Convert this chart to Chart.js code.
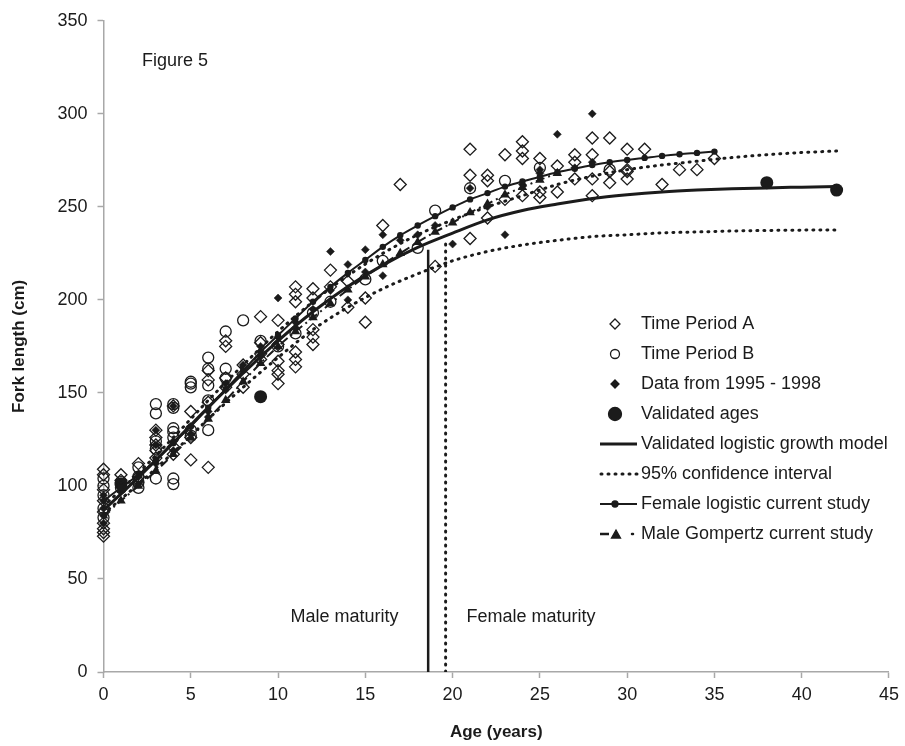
<!DOCTYPE html>
<html>
<head>
<meta charset="utf-8">
<title>Figure 5 - Fork length at age</title>
<script src="https://cdn.jsdelivr.net/npm/chart.js@4.4.0/dist/chart.umd.min.js"></script>
<style>
  html, body { margin: 0; padding: 0; background: #fff; }
  #wrap { width: 905px; height: 746px; }
</style>
</head>
<body>
<div id="wrap"><canvas id="growthChart" width="905" height="746"></canvas></div>
<script>
// ---- data (age in years, fork length in cm) ----
const ageA = [0,0,0,0,0,0,0,0,0, 1,1, 2,2, 3,3,3,3,3, 4,4,4, 5,5,5, 6,6,6,6, 7,7,7,7, 8,8,8,
  9,9,9,9, 10,10,10,10,10,10, 11,11,11,11,11,11, 12,12,12,12,12, 13,13, 14,14, 15,15, 16, 17, 19,
  21,21,21, 22,22,22, 23,23, 24,24,24,24, 25,25,25, 26,26, 27,27,27, 28,28,28,28, 29,29,29,
  30,30,30,30, 31, 32, 33, 34, 35];
const lengthA = [109,106,98,92,86,80,77,75,73, 106,103, 112,105, 130,126,122,119,115, 143,121,117,
  140,126,114, 162,157,145,110, 178,175,158,153, 165,153,160, 191,177,171,168,
  189,176,167,162,155,160, 207,203,199,172,168,164, 206,201,184,180,176, 216,207, 210,196,
  201,188, 240, 262, 218, 281,267,233, 267,264,244, 278,254, 285,280,276,256, 276,258,255,
  272,258, 278,274,265, 287,278,265,256, 287,263,269, 281,270,265,269, 281, 262, 270, 270, 276];

const ageB = [0,0,0,0,0, 1,1, 2,2,2,2, 3,3,3,3,3, 4,4,4,4,4,4,4, 5,5,5,5,5, 6,6,6,6,6, 7,7,7,
  8, 9, 10, 11, 12, 13, 15, 16, 18, 19, 21, 23, 25, 29];
const lengthB = [104,100,95,88,83, 102,99, 110,105,102,99, 144,139,124,120,104,
  144,142,131,129,126,104,101, 156,155,153,130,127, 169,163,154,146,130, 183,163,158,
  189, 178, 175, 182, 193, 199, 211, 221, 228, 248, 260, 264, 271, 270];

const ageD = [0,0,0,0,0, 1,1, 2,2, 3,3,3, 4,4,4, 5,5, 6,6, 7, 8, 9,9, 10,10, 11,11, 12,
  13,13, 14,14, 15,15, 16,16, 17, 18, 19, 20, 21, 22, 23, 24, 25,25, 26, 27, 28,28];
const lengthD = [95,92,88,84,80, 100,97, 105,101, 130,122,112, 143,124,119, 132,128, 140,137,
  155, 165, 170,175, 201,180, 188,185, 195, 226,205, 219,200, 227,215, 235,213, 232, 235, 240,
  230, 260, 250, 235, 262, 270,268, 289, 271, 300,274];

const ageValidated = [1, 9, 38, 42];
const lengthValidated = [101, 148, 263, 259];

// model curves
const modelAges = [0,2,4,6,8,10,12,14,16,18,20,22,24,26,28,30,32,34,36,38,40,42];
const validatedModel = [87,104.6,123.2,142.2,160.6,178,193.6,207.2,218.7,228.2,235.9,243,248,
  251.5,254.5,256.5,258,259,259.7,260.2,260.6,261];
const upperCI = [89,107,126,146,165,183,199,213,225,235,243,250,256,262,266.5,270,272.5,274.5,
  276.5,278,279.2,280];
const lowerCI = [85,101,118,136,153,169,184,196,206,214,221,226,229.5,232,234,235,236,236.5,
  237,237.3,237.5,237.6];

const femaleAges = [0,1,2,3,4,5,6,7,8,9,10,11,12,13,14,15,16,17,18,19,20,21,22,23,24,25,26,27,
  28,29,30,31,32,33,34,35];
const femaleModel = [92,99,106,114,123,132,142,152,162,172,181,190,199,207,214.5,221.5,228.5,
  234.7,240,245,249.7,254,257.4,260.9,263.6,266.2,268.6,270.5,272.5,274,275.2,276.3,277.4,
  278.3,279,279.7];

const maleAges = [0,1,2,3,4,5,6,7,8,9,10,11,12,13,14,15,16,17,18,19,20,21,22,23,24,25,26];
const maleModel = [84,92,100,108,117,126,136,146,156,166,175,183,190.5,198,205.5,212.5,219,225,
  231,236.5,241.5,247,251.5,256.5,260.5,264.5,268];

const maturityAge = [18.6, 19.6];   // male, female
const maturityLength = [227, 231];

const xTicks = [0, 5, 10, 15, 20, 25, 30, 35, 40, 45];
const yTicks = [0, 50, 100, 150, 200, 250, 300, 350];

// ---- drawing ----
const fontFamily = '"Liberation Sans", Arial, Helvetica, sans-serif';
const ink = '#1b1b1b';
const axisGrey = '#a8a8a8';
const clear = 'rgba(0,0,0,0)';

function pairs(ages, lengths) {
  return ages.map((a, i) => ({ x: a, y: lengths[i] }));
}

const dotted = { borderDash: [1, 6], borderCapStyle: 'round', borderWidth: 3 };

function curve(label, ages, values, extra) {
  return Object.assign({
    label: label,
    data: pairs(ages, values),
    showLine: true,
    borderColor: ink,
    backgroundColor: ink,
    borderWidth: 2,
    pointRadius: 0,
    cubicInterpolationMode: 'monotone',
    order: 0
  }, extra);
}

function markers(label, ages, values, extra) {
  return Object.assign({
    label: label,
    data: pairs(ages, values),
    showLine: false,
    borderColor: ink,
    backgroundColor: clear,
    pointBorderWidth: 1.3,
    clip: false,
    order: 1
  }, extra);
}

function drawMarker(ctx, style, x, y, r, filled) {
  ctx.beginPath();
  if (style === 'circle') {
    ctx.arc(x, y, r, 0, Math.PI * 2);
  } else if (style === 'rectRot') {
    ctx.moveTo(x, y - r); ctx.lineTo(x + r, y); ctx.lineTo(x, y + r); ctx.lineTo(x - r, y);
    ctx.closePath();
  } else if (style === 'triangle') {
    ctx.moveTo(x, y - r); ctx.lineTo(x + r * 0.9, y + r * 0.6); ctx.lineTo(x - r * 0.9, y + r * 0.6);
    ctx.closePath();
  }
  if (filled) ctx.fill();
  ctx.stroke();
}

function legendLine(ctx, y, x0, x1, width, dash) {
  ctx.save();
  ctx.lineWidth = width;
  ctx.setLineDash(dash || []);
  ctx.lineCap = dash ? 'round' : 'butt';
  ctx.beginPath();
  ctx.moveTo(x0, y);
  ctx.lineTo(x1, y);
  ctx.stroke();
  ctx.restore();
}

const figureText = {
  id: 'figureText',
  afterDraw(chart) {
    const ctx = chart.ctx;
    const xs = chart.scales.x;
    const ys = chart.scales.y;
    ctx.save();
    ctx.font = '18px ' + fontFamily;
    ctx.fillStyle = ink;
    ctx.strokeStyle = ink;
    ctx.textBaseline = 'middle';

    ctx.textAlign = 'left';
    ctx.fillText('Figure 5', xs.getPixelForValue(2.2), ys.getPixelForValue(328.5));
    ctx.textAlign = 'right';
    ctx.fillText('Male maturity', xs.getPixelForValue(16.9), ys.getPixelForValue(29.5));
    ctx.textAlign = 'left';
    ctx.fillText('Female maturity', xs.getPixelForValue(20.8), ys.getPixelForValue(29.5));

    // legend
    const mx = 615, tx = 641, y0 = 324, step = 30;
    const labels = ['Time Period A', 'Time Period B', 'Data from 1995 - 1998', 'Validated ages',
      'Validated logistic growth model', '95% confidence interval',
      'Female logistic current study', 'Male Gompertz current study'];
    labels.forEach((t, i) => ctx.fillText(t, tx, y0 + step * i));

    ctx.lineWidth = 1.3;
    drawMarker(ctx, 'rectRot', mx, y0, 5, false);
    drawMarker(ctx, 'circle', mx, y0 + step, 4.5, false);
    drawMarker(ctx, 'rectRot', mx, y0 + step * 2, 4, true);
    drawMarker(ctx, 'circle', mx, y0 + step * 3, 6.5, true);

    legendLine(ctx, y0 + step * 4, 600, 637, 3);
    legendLine(ctx, y0 + step * 5, 601, 637, 3, [1, 6]);
    legendLine(ctx, y0 + step * 6, 600, 637, 2);
    drawMarker(ctx, 'circle', mx, y0 + step * 6, 3, true);
    legendLine(ctx, y0 + step * 7, 600, 609, 2.5);
    drawMarker(ctx, 'triangle', mx + 1, y0 + step * 7 + 1, 5, true);
    legendLine(ctx, y0 + step * 7, 632, 633, 2.5, [1, 6]);
    ctx.restore();
  }
};

const ctx = document.getElementById('growthChart').getContext('2d');

new Chart(ctx, {
  type: 'scatter',
  data: {
    datasets: [
      curve('Validated logistic growth model', modelAges, validatedModel, { borderWidth: 3 }),
      curve('95% confidence interval', modelAges, upperCI, dotted),
      curve('95% confidence interval (lower)', modelAges, lowerCI, dotted),
      curve('Female logistic current study', femaleAges, femaleModel, {
        pointRadius: 3.2, pointStyle: 'circle', pointBackgroundColor: ink, pointBorderWidth: 0
      }),
      curve('Male Gompertz current study', maleAges, maleModel, {
        borderDash: [9, 4, 2, 4], pointRadius: 5.5, pointStyle: 'triangle',
        pointBackgroundColor: ink, pointBorderWidth: 0
      }),
      curve('Male maturity', [maturityAge[0], maturityAge[0]], [0, maturityLength[0]], {
        borderWidth: 2.5, cubicInterpolationMode: 'default', tension: 0
      }),
      curve('Female maturity', [maturityAge[1], maturityAge[1]], [0, maturityLength[1]],
        Object.assign({ cubicInterpolationMode: 'default', tension: 0 }, dotted)),
      markers('Time Period A', ageA, lengthA, { pointStyle: 'rectRot', pointRadius: 6 }),
      markers('Time Period B', ageB, lengthB, { pointStyle: 'circle', pointRadius: 5.5 }),
      markers('Data from 1995 - 1998', ageD, lengthD, {
        pointStyle: 'rectRot', pointRadius: 4, backgroundColor: ink, pointBorderWidth: 0.5
      }),
      markers('Validated ages', ageValidated, lengthValidated, {
        pointStyle: 'circle', pointRadius: 6.5, backgroundColor: ink, pointBorderWidth: 0
      })
    ]
  },
  options: {
    responsive: false,
    animation: false,
    layout: { padding: { top: 18, right: 13, left: 0, bottom: 0 } },
    plugins: {
      legend: { display: false },
      tooltip: { enabled: false }
    },
    scales: {
      x: {
        type: 'linear',
        min: 0,
        max: 45,
        afterBuildTicks: (scale) => { scale.ticks = xTicks.map(v => ({ value: v })); },
        afterFit: (scale) => { scale.height = 74; },
        ticks: {
          color: ink,
          padding: 6,
          font: { family: fontFamily, size: 18 }
        },
        grid: {
          drawOnChartArea: false,
          drawTicks: true,
          tickLength: 6,
          tickColor: axisGrey,
          tickWidth: 1.5
        },
        border: { color: axisGrey, width: 1.5 },
        title: {
          display: true,
          text: 'Age (years)',
          color: ink,
          font: { family: fontFamily, size: 17, weight: 'bold' },
          padding: { top: 0, bottom: 3 }
        }
      },
      y: {
        type: 'linear',
        min: 0,
        max: 350,
        afterBuildTicks: (scale) => { scale.ticks = yTicks.map(v => ({ value: v })); },
        afterFit: (scale) => { scale.width = 103.5; },
        ticks: {
          color: ink,
          padding: 10,
          font: { family: fontFamily, size: 18 }
        },
        grid: {
          drawOnChartArea: false,
          drawTicks: true,
          tickLength: 6,
          tickColor: axisGrey,
          tickWidth: 1.5
        },
        border: { color: axisGrey, width: 1.5 },
        title: {
          display: true,
          text: 'Fork length (cm)',
          color: ink,
          font: { family: fontFamily, size: 17, weight: 'bold' },
          padding: { top: 9, bottom: 0 }
        }
      }
    }
  },
  plugins: [figureText]
});
</script>
</body>
</html>
